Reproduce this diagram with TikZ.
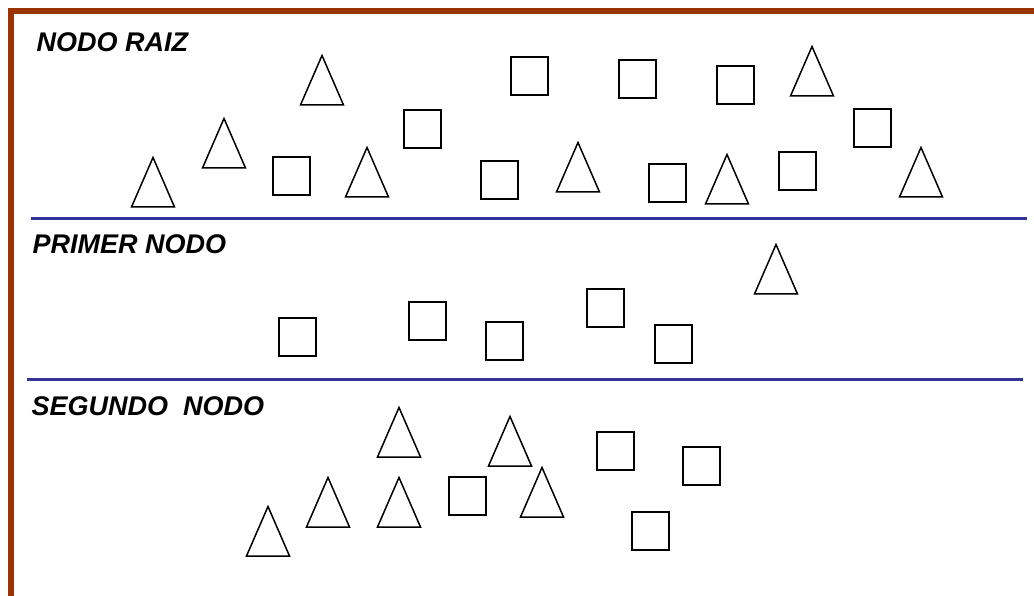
\documentclass[tikz,border=0pt]{standalone}
\usepackage{fontspec}
\setmainfont{Liberation Sans}
\definecolor{framebrown}{RGB}{153,51,0}
\definecolor{bandblue}{RGB}{51,51,153}
\begin{document}
\begin{tikzpicture}[x=1pt,y=-1pt,
  shapeline/.style={line width=1.5pt, draw=black, line join=miter},
  framebar/.style={line width=6pt, draw=framebrown},
  bandline/.style={line width=3pt, draw=bandblue},
  title/.style={anchor=base west, inner sep=0pt, font=\fontsize{27}{31}\selectfont\bfseries\itshape},
  tri/.pic={\draw[shapeline] (-21.5,0) -- (0,-49.5) -- (21.5,0) -- cycle;},
  sqr/.pic={\draw[shapeline] (0,0) rectangle (37,38);}
]
\useasboundingbox (0,0) rectangle (1034,596);
% frame
\coordinate (fbl) at (11,596);
\coordinate (ftl) at (11,11);
\coordinate (ftr) at (1034,11);
\draw[framebar] (fbl) -- (ftl) -- (ftr);
% band separators
\coordinate (b1l) at (31,219);
\coordinate (b1r) at (1027,219);
\coordinate (b2l) at (27,379);
\coordinate (b2r) at (1023,379);
\draw[bandline] (b1l) -- (b1r);
\draw[bandline] (b2l) -- (b2r);
% titles
\node[title] (t1) at (36.5,52) {NODO RAIZ};
\node[title] (t2) at (32.5,254) {PRIMER NODO};
\node[title] (t3) at (31.5,415) {SEGUNDO\ \ NODO};
% root band triangles
\foreach \x/\y in {153/207, 224/168, 322/105, 367/197, 578/192, 727/204, 812/96, 921/197}
  \pic at (\x,\y) {tri};
% root band squares
\foreach \x/\y in {273/157, 404/110, 481/161, 511/57, 619/60, 649/164, 717/66, 779/152, 854/109}
  \pic at (\x,\y) {sqr};
% first node band
\foreach \x/\y in {279/318, 409/302, 486/322, 587/289, 655/325}
  \pic at (\x,\y) {sqr};
\pic at (776,294) {tri};
% second node band
\foreach \x/\y in {399/457, 510/466, 328/527, 399/527, 268/556, 542/517}
  \pic at (\x,\y) {tri};
\foreach \x/\y in {449/477, 597/432, 683/447, 632/512}
  \pic at (\x,\y) {sqr};
\end{tikzpicture}
\end{document}
